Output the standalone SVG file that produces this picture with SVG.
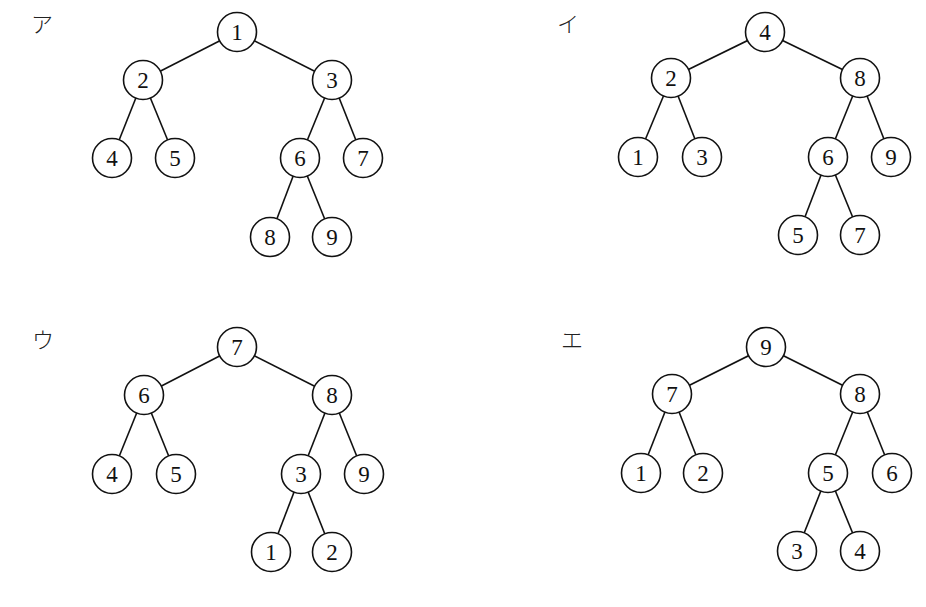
<svg xmlns="http://www.w3.org/2000/svg" width="926" height="607" viewBox="0 0 926 607">
<style>
.e{stroke:#111;stroke-width:1.6;fill:none}
.n circle{fill:#fff;stroke:#111;stroke-width:1.6}
.n text{font-family:"Liberation Serif","DejaVu Serif",serif;font-size:23px;fill:#111;text-anchor:middle;dominant-baseline:central}
.lbl{font-family:"Noto Sans CJK JP",sans-serif;font-size:22px;font-weight:300;fill:#222;text-anchor:middle;dominant-baseline:central}
</style>
<rect width="926" height="607" fill="#fff"/>
<text class="lbl" x="42" y="22">ア</text>
<text class="lbl" x="568" y="22">イ</text>
<text class="lbl" x="43" y="338">ウ</text>
<text class="lbl" x="572" y="338">エ</text>
<g id="connectors">
<line class="e" x1="237" y1="32" x2="143" y2="80"/>
<line class="e" x1="237" y1="32" x2="332" y2="80"/>
<line class="e" x1="143" y1="80" x2="112" y2="158"/>
<line class="e" x1="143" y1="80" x2="175" y2="158"/>
<line class="e" x1="332" y1="80" x2="300" y2="158"/>
<line class="e" x1="332" y1="80" x2="363" y2="158"/>
<line class="e" x1="300" y1="158" x2="270" y2="237"/>
<line class="e" x1="300" y1="158" x2="332" y2="237"/>
<line class="e" x1="765" y1="32" x2="671" y2="78"/>
<line class="e" x1="765" y1="32" x2="860" y2="78"/>
<line class="e" x1="671" y1="78" x2="638" y2="157"/>
<line class="e" x1="671" y1="78" x2="702" y2="157"/>
<line class="e" x1="860" y1="78" x2="828" y2="157"/>
<line class="e" x1="860" y1="78" x2="891" y2="157"/>
<line class="e" x1="828" y1="157" x2="798" y2="235"/>
<line class="e" x1="828" y1="157" x2="860" y2="235"/>
<line class="e" x1="237" y1="347" x2="144" y2="395"/>
<line class="e" x1="237" y1="347" x2="332" y2="395"/>
<line class="e" x1="144" y1="395" x2="112" y2="474"/>
<line class="e" x1="144" y1="395" x2="176" y2="474"/>
<line class="e" x1="332" y1="395" x2="301" y2="474"/>
<line class="e" x1="332" y1="395" x2="364" y2="474"/>
<line class="e" x1="301" y1="474" x2="271" y2="552"/>
<line class="e" x1="301" y1="474" x2="332" y2="552"/>
<line class="e" x1="766" y1="347" x2="672" y2="394"/>
<line class="e" x1="766" y1="347" x2="860" y2="394"/>
<line class="e" x1="672" y1="394" x2="641" y2="473"/>
<line class="e" x1="672" y1="394" x2="703" y2="473"/>
<line class="e" x1="860" y1="394" x2="828" y2="473"/>
<line class="e" x1="860" y1="394" x2="892" y2="473"/>
<line class="e" x1="828" y1="473" x2="797" y2="551"/>
<line class="e" x1="828" y1="473" x2="860" y2="551"/>
</g>
<g id="treeA">
<g id="a1" class="n"><circle cx="237" cy="32" r="19.5"/><text x="237" y="32">1</text></g>
<g id="a2" class="n"><circle cx="143" cy="80" r="19.5"/><text x="143" y="80">2</text></g>
<g id="a3" class="n"><circle cx="332" cy="80" r="19.5"/><text x="332" y="80">3</text></g>
<g id="a4" class="n"><circle cx="112" cy="158" r="19.5"/><text x="112" y="158">4</text></g>
<g id="a5" class="n"><circle cx="175" cy="158" r="19.5"/><text x="175" y="158">5</text></g>
<g id="a6" class="n"><circle cx="300" cy="158" r="19.5"/><text x="300" y="158">6</text></g>
<g id="a7" class="n"><circle cx="363" cy="158" r="19.5"/><text x="363" y="158">7</text></g>
<g id="a8" class="n"><circle cx="270" cy="237" r="19.5"/><text x="270" y="237">8</text></g>
<g id="a9" class="n"><circle cx="332" cy="237" r="19.5"/><text x="332" y="237">9</text></g>
</g>
<g id="treeI">
<g id="i4" class="n"><circle cx="765" cy="32" r="19.5"/><text x="765" y="32">4</text></g>
<g id="i2" class="n"><circle cx="671" cy="78" r="19.5"/><text x="671" y="78">2</text></g>
<g id="i8" class="n"><circle cx="860" cy="78" r="19.5"/><text x="860" y="78">8</text></g>
<g id="i1" class="n"><circle cx="638" cy="157" r="19.5"/><text x="638" y="157">1</text></g>
<g id="i3" class="n"><circle cx="702" cy="157" r="19.5"/><text x="702" y="157">3</text></g>
<g id="i6" class="n"><circle cx="828" cy="157" r="19.5"/><text x="828" y="157">6</text></g>
<g id="i9" class="n"><circle cx="891" cy="157" r="19.5"/><text x="891" y="157">9</text></g>
<g id="i5" class="n"><circle cx="798" cy="235" r="19.5"/><text x="798" y="235">5</text></g>
<g id="i7" class="n"><circle cx="860" cy="235" r="19.5"/><text x="860" y="235">7</text></g>
</g>
<g id="treeU">
<g id="u7" class="n"><circle cx="237" cy="347" r="19.5"/><text x="237" y="347">7</text></g>
<g id="u6" class="n"><circle cx="144" cy="395" r="19.5"/><text x="144" y="395">6</text></g>
<g id="u8" class="n"><circle cx="332" cy="395" r="19.5"/><text x="332" y="395">8</text></g>
<g id="u4" class="n"><circle cx="112" cy="474" r="19.5"/><text x="112" y="474">4</text></g>
<g id="u5" class="n"><circle cx="176" cy="474" r="19.5"/><text x="176" y="474">5</text></g>
<g id="u3" class="n"><circle cx="301" cy="474" r="19.5"/><text x="301" y="474">3</text></g>
<g id="u9" class="n"><circle cx="364" cy="474" r="19.5"/><text x="364" y="474">9</text></g>
<g id="u1" class="n"><circle cx="271" cy="552" r="19.5"/><text x="271" y="552">1</text></g>
<g id="u2" class="n"><circle cx="332" cy="552" r="19.5"/><text x="332" y="552">2</text></g>
</g>
<g id="treeE">
<g id="e9" class="n"><circle cx="766" cy="347" r="19.5"/><text x="766" y="347">9</text></g>
<g id="e7" class="n"><circle cx="672" cy="394" r="19.5"/><text x="672" y="394">7</text></g>
<g id="e8" class="n"><circle cx="860" cy="394" r="19.5"/><text x="860" y="394">8</text></g>
<g id="e1" class="n"><circle cx="641" cy="473" r="19.5"/><text x="641" y="473">1</text></g>
<g id="e2" class="n"><circle cx="703" cy="473" r="19.5"/><text x="703" y="473">2</text></g>
<g id="e5" class="n"><circle cx="828" cy="473" r="19.5"/><text x="828" y="473">5</text></g>
<g id="e6" class="n"><circle cx="892" cy="473" r="19.5"/><text x="892" y="473">6</text></g>
<g id="e3" class="n"><circle cx="797" cy="551" r="19.5"/><text x="797" y="551">3</text></g>
<g id="e4" class="n"><circle cx="860" cy="551" r="19.5"/><text x="860" y="551">4</text></g>
</g>
</svg>
